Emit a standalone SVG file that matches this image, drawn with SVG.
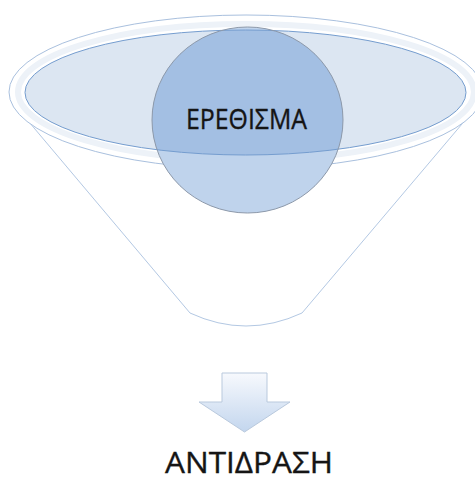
<svg xmlns="http://www.w3.org/2000/svg" width="475" height="482" viewBox="0 0 475 482">
<style>
.lbl{font-family:"Open Sans","Liberation Sans",sans-serif;fill:#151515;stroke:#151515;stroke-width:0.35;text-anchor:middle}
</style>
<defs>
<linearGradient id="ag" x1="0" y1="0" x2="0" y2="1">
<stop offset="0" stop-color="#f7f9fd"/>
<stop offset="1" stop-color="#c3d6ee"/>
</linearGradient>
<clipPath id="ec"><ellipse cx="245.5" cy="92.5" rx="220.5" ry="62.5"/></clipPath>
</defs>
<rect width="475" height="482" fill="#fff"/>
<g id="funnel">
<path d="M13,103 L190,313 Q246,339 302,313 L484,98" fill="#fff" stroke="#b3c8e3" stroke-width="1"/>
<ellipse cx="246" cy="92" rx="237" ry="77" fill="#fff" stroke="#a9c0de" stroke-width="1"/>
<ellipse cx="246" cy="92" rx="228" ry="68" fill="none" stroke="#edf2f8" stroke-width="6"/>
<ellipse cx="245.5" cy="92.5" rx="220.5" ry="62.5" fill="#dce6f2"/>
</g>
<g id="stimulus">
<ellipse cx="247.5" cy="120" rx="95.5" ry="93" fill="#bfd3ec"/>
<ellipse cx="247.5" cy="120" rx="95.5" ry="93" fill="#a3bfe3" clip-path="url(#ec)"/>
<ellipse cx="245.5" cy="92.5" rx="220.5" ry="62.5" fill="none" stroke="#759dcf" stroke-width="1"/>
<ellipse cx="247.5" cy="120" rx="95.5" ry="93" fill="none" stroke="#8d99aa" stroke-width="1"/>
<text class="lbl" x="246.5" y="129" font-size="27" textLength="121" lengthAdjust="spacingAndGlyphs">ΕΡΕΘΙΣΜΑ</text>
</g>
<g id="connectors">
<path d="M222,373 L267,373 L267,402 L290,402 L244.5,432 L199,402 L222,402 Z" fill="url(#ag)" stroke="#b9c9dd" stroke-width="1"/>
</g>
<g id="response">
<text class="lbl" x="249" y="473" font-size="29.5" textLength="168" lengthAdjust="spacingAndGlyphs">ΑΝΤΙΔΡΑΣΗ</text>
</g>
</svg>
